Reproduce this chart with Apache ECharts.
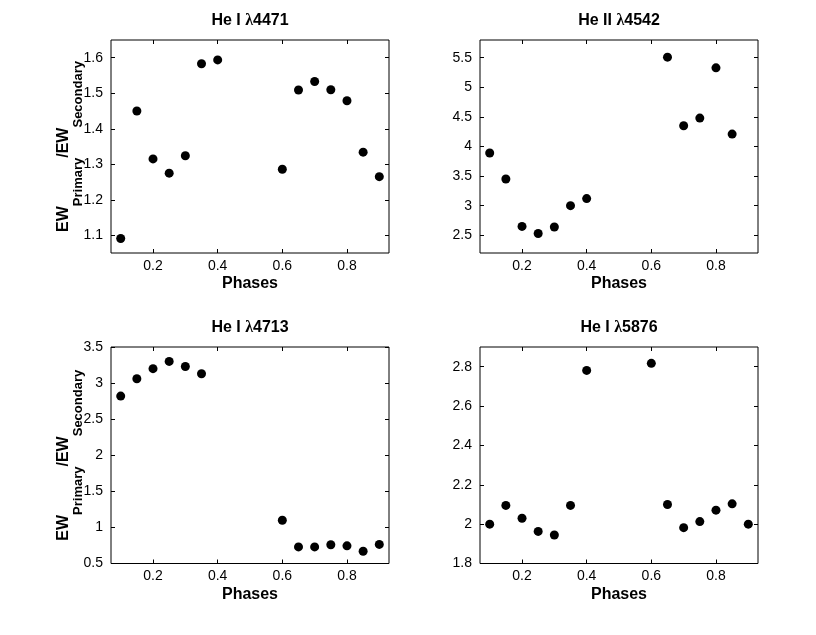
<!DOCTYPE html>
<html lang="en">
<head>
    <meta charset="UTF-8">
    <title>EW ratio vs phase</title>
    <script src="https://cdn.jsdelivr.net/npm/echarts@6/dist/echarts.min.js"></script>
    <style type="text/css">
        html, body { margin: 0; height: 100%; background: #fff; }
        #main { width: 816px; height: 635px; }
    </style>
</head>
<body>
    <div id="main"></div>
    <script type="text/javascript">
        // He I 4471
        var phases4471 = [0.1, 0.15, 0.2, 0.25, 0.3, 0.35, 0.4, 0.6, 0.65, 0.7, 0.75, 0.8, 0.85, 0.9];
        var ratio4471  = [1.091, 1.450, 1.315, 1.275, 1.324, 1.583, 1.594, 1.286, 1.509, 1.533, 1.510, 1.479, 1.334, 1.265];
        // He II 4542
        var phases4542 = [0.1, 0.15, 0.2, 0.25, 0.3, 0.35, 0.4, 0.65, 0.7, 0.75, 0.8, 0.85];
        var ratio4542  = [3.89, 3.45, 2.65, 2.53, 2.64, 3.00, 3.12, 5.51, 4.35, 4.48, 5.33, 4.21];
        // He I 4713
        var phases4713 = [0.1, 0.15, 0.2, 0.25, 0.3, 0.35, 0.6, 0.65, 0.7, 0.75, 0.8, 0.85, 0.9];
        var ratio4713  = [2.82, 3.06, 3.20, 3.30, 3.23, 3.13, 1.10, 0.73, 0.73, 0.76, 0.745, 0.67, 0.765];
        // He I 5876
        var phases5876 = [0.1, 0.15, 0.2, 0.25, 0.3, 0.35, 0.4, 0.6, 0.65, 0.7, 0.75, 0.8, 0.85, 0.9];
        var ratio5876  = [2.00, 2.095, 2.03, 1.963, 1.945, 2.095, 2.781, 2.817, 2.10, 1.982, 2.013, 2.071, 2.103, 2.00];

        // tick labels
        var phaseTicks = [0.2, 0.4, 0.6, 0.8];
        var ticks4471 = [1.1, 1.2, 1.3, 1.4, 1.5, 1.6];
        var ticks4542 = [2.5, 3, 3.5, 4, 4.5, 5, 5.5];
        var ticks4713 = [0.5, 1, 1.5, 2, 2.5, 3, 3.5];
        var ticks5876 = [1.8, 2, 2.2, 2.4, 2.6, 2.8];

        var titles = ['4471', '4542', '4713', '5876'];
        var ions = ['He I ', 'He II ', 'He I ', 'He I '];

        var FONT = 'Liberation Sans, Arial, sans-serif';

        var panels = [
            {x: phases4471, y: ratio4471, yMin: 1.05, yMax: 1.65, yTicks: ticks4471, left: 111, top: 40, h: 213, ylabel: true},
            {x: phases4542, y: ratio4542, yMin: 2.2, yMax: 5.8, yTicks: ticks4542, left: 480, top: 40, h: 213, ylabel: false},
            {x: phases4713, y: ratio4713, yMin: 0.5, yMax: 3.5, yTicks: ticks4713, left: 111, top: 347, h: 216.5, ylabel: true},
            {x: phases5876, y: ratio5876, yMin: 1.8, yMax: 2.9, yTicks: ticks5876, left: 480, top: 347, h: 216.5, ylabel: false}
        ];

        function fmt(v) {
            return String(Math.round(v * 100) / 100);
        }

        var option = {
            backgroundColor: '#fff',
            animation: false,
            title: [], grid: [], xAxis: [], yAxis: [], series: []
        };

        panels.forEach(function (p, i) {
            var w = 278;
            option.title.push({
                text: '{b|' + ions[i] + '}{l|λ}{b|' + titles[i] + '}',
                left: p.left + w / 2,
                top: p.top - 28,
                textAlign: 'center',
                padding: 0,
                textStyle: {
                    rich: {
                        b: {fontSize: 16, fontWeight: 'bold', color: '#000', fontFamily: FONT, lineHeight: 18},
                        l: {fontSize: 16, color: '#000', fontFamily: 'Liberation Serif, serif', lineHeight: 18}
                    }
                }
            });
            option.grid.push({
                left: p.left, top: p.top, width: w, height: p.h,
                show: true, borderColor: '#000', borderWidth: 1, backgroundColor: '#fff'
            });
            // bottom x axis
            option.xAxis.push({
                type: 'value', gridIndex: i, min: 0.07, max: 0.93,
                name: 'Phases', nameLocation: 'middle', nameGap: 23,
                nameTextStyle: {fontSize: 16, fontWeight: 'bold', color: '#000', fontFamily: FONT},
                axisLine: {show: false},
                splitLine: {show: false},
                axisTick: {show: true, inside: true, length: 4, customValues: phaseTicks, lineStyle: {color: '#000'}},
                axisLabel: {customValues: phaseTicks, margin: 6, fontSize: 14, color: '#000', fontFamily: FONT, formatter: fmt}
            });
            // top mirror axis (ticks only)
            option.xAxis.push({
                type: 'value', gridIndex: i, position: 'top', min: 0.07, max: 0.93,
                axisLine: {show: false}, splitLine: {show: false},
                axisTick: {show: true, inside: true, length: 4, customValues: phaseTicks, lineStyle: {color: '#000'}},
                axisLabel: {show: false}
            });
            var yAx = {
                type: 'value', gridIndex: i, min: p.yMin, max: p.yMax,
                axisLine: {show: false}, splitLine: {show: false},
                axisTick: {show: true, inside: true, length: 4, customValues: p.yTicks, lineStyle: {color: '#000'}},
                axisLabel: {customValues: p.yTicks, margin: 8, fontSize: 14, color: '#000', fontFamily: FONT, formatter: fmt}
            };
            if (p.ylabel) {
                yAx.name = '{b|EW}{s|Primary}{b|/EW}{s|Secondary}';
                yAx.nameLocation = 'middle';
                yAx.nameGap = 39;
                yAx.nameMoveOverlap = false;
                yAx.nameRotate = 90;
                yAx.nameTextStyle = {
                    rich: {
                        b: {fontSize: 16, fontWeight: 'bold', color: '#000', fontFamily: FONT, lineHeight: 16, verticalAlign: 'top'},
                        s: {fontSize: 13, fontWeight: 'bold', color: '#000', fontFamily: FONT, lineHeight: 13, verticalAlign: 'top', padding: [16, 0, 0, 0]}
                    }
                };
            }
            option.yAxis.push(yAx);
            // right mirror axis (ticks only)
            option.yAxis.push({
                type: 'value', gridIndex: i, position: 'right', min: p.yMin, max: p.yMax,
                axisLine: {show: false}, splitLine: {show: false},
                axisTick: {show: true, inside: true, length: 4, customValues: p.yTicks, lineStyle: {color: '#000'}},
                axisLabel: {show: false}
            });
            option.series.push({
                type: 'scatter',
                xAxisIndex: i * 2, yAxisIndex: i * 2,
                symbol: 'circle', symbolSize: 9,
                itemStyle: {color: '#000', opacity: 1},
                data: p.x.map(function (ph, k) { return [ph, p.y[k]]; })
            });
        });

        var myChart = echarts.init(document.getElementById('main'));
        myChart.setOption(option);
    </script>
</body>
</html>
